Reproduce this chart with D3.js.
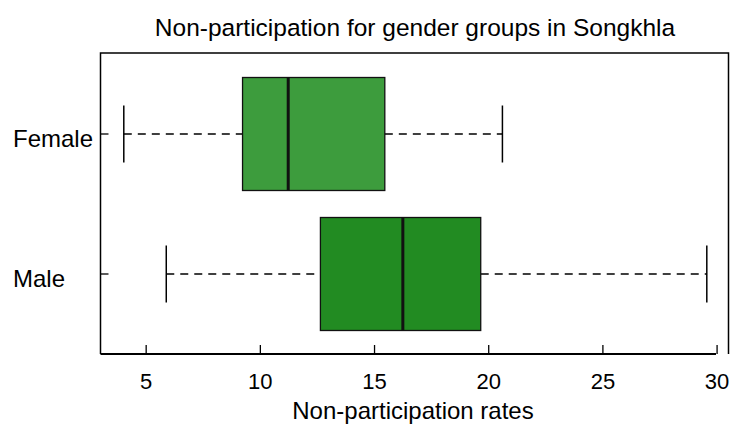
<!DOCTYPE html>
<html><head><meta charset="utf-8">
<script src="https://cdn.jsdelivr.net/npm/d3@7"></script>
<style>body{margin:0;background:#fff}text{font-family:"Liberation Sans",Arial,sans-serif}</style>
</head><body><svg width="730" height="427"></svg>
<script>
const groups = ["Female", "Male"];
const whiskLo = [4.02, 5.88];
const q1 = [9.22, 12.63];
const median = [11.22, 16.24];
const q3 = [15.45, 19.65];
const whiskHi = [20.6, 29.55];
const fills = ["#3d9c3d", "#228b22"];
const xTicks = [5, 10, 15, 20, 25, 30];

const svg = d3.select("svg");
const L = 100.5, R = 728.5, T = 53, B = 354;
const x = d3.scaleLinear().domain([3, 30.5]).range([L, R]);
const y = d3.scalePoint().domain(groups).range([134, 274]);
const bh = 113, ch = 57;

svg.append("text").attr("x", 415).attr("y", 36).attr("text-anchor", "middle")
  .attr("font-size", 24.5).text("Non-participation for gender groups in Songkhla");

svg.append("path").attr("d", `M${L},${B}V${T}H${R}V${B}`).attr("fill", "none").attr("stroke", "#000").attr("stroke-width", 1.5);
svg.append("line").attr("x1", L).attr("x2", 716).attr("y1", B).attr("y2", B).attr("stroke", "#000").attr("stroke-width", 2);

svg.selectAll(".xt").data(xTicks).join("line")
  .attr("x1", d => x(d)).attr("x2", d => x(d)).attr("y1", B).attr("y2", B - 9)
  .attr("stroke", "#000").attr("stroke-width", 1.3);
svg.selectAll(".xl").data(xTicks).join("text")
  .attr("x", d => x(d)).attr("y", 389).attr("text-anchor", "middle").attr("font-size", 22).text(d => d);
svg.append("text").attr("x", 413).attr("y", 419).attr("text-anchor", "middle").attr("font-size", 24).text("Non-participation rates");

groups.forEach((g, i) => {
  const cy = y(g);
  svg.append("line").attr("x1", L).attr("x2", L + 8).attr("y1", cy).attr("y2", cy).attr("stroke", "#000").attr("stroke-width", 1.3);
  svg.append("text").attr("x", 13).attr("y", cy + 13).attr("font-size", 24).text(g);
  [[whiskLo[i], q1[i]], [q3[i], whiskHi[i]]].forEach(([a, b]) =>
    svg.append("line").attr("x1", x(a)).attr("x2", x(b)).attr("y1", cy).attr("y2", cy)
      .attr("stroke", "#000").attr("stroke-width", 1.6).attr("stroke-dasharray", "8,6"));
  [whiskLo[i], whiskHi[i]].forEach(v =>
    svg.append("line").attr("x1", x(v)).attr("x2", x(v)).attr("y1", cy - ch / 2).attr("y2", cy + ch / 2)
      .attr("stroke", "#000").attr("stroke-width", 1.5));
  svg.append("rect").attr("x", x(q1[i])).attr("y", cy - bh / 2).attr("width", x(q3[i]) - x(q1[i])).attr("height", bh)
    .attr("fill", fills[i]).attr("stroke", "#111").attr("stroke-width", 1.3);
  svg.append("line").attr("x1", x(median[i])).attr("x2", x(median[i])).attr("y1", cy - bh / 2).attr("y2", cy + bh / 2)
    .attr("stroke", "#111").attr("stroke-width", 3);
});
</script></body></html>
